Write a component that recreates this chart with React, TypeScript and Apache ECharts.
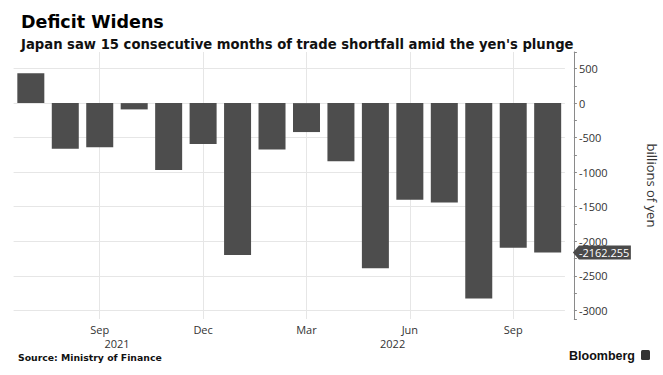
import React, { useEffect, useRef } from 'react';
import * as echarts from 'echarts';

const months = [
  'Jul 2021', 'Aug 2021', 'Sep 2021', 'Oct 2021', 'Nov 2021', 'Dec 2021',
  'Jan 2022', 'Feb 2022', 'Mar 2022', 'Apr 2022', 'May 2022', 'Jun 2022',
  'Jul 2022', 'Aug 2022', 'Sep 2022', 'Oct 2022',
];
const balance = [
  433, -659, -640, -91, -968, -592, -2200, -673, -419, -842, -2390, -1400,
  -1440, -2830, -2094, -2162.255,
];
const labeledMonths = ['Sep 2021', 'Dec 2021', 'Mar 2022', 'Jun 2022', 'Sep 2022'];
const years = ['2021', '2022'];
const yearStart = ['Jul 2021', 'Jan 2022'];
const yearEnd = ['Dec 2021', 'Oct 2022'];
const lastValueText = '-2162.255';

const GRID_LINE = '#e6e6e6';
const AXIS = '#8a8a8a';
const TEXT = '#333333';

export default function App() {
  const ref = useRef<HTMLDivElement>(null);
  useEffect(() => {
    if (!ref.current) return;
    const chart = echarts.init(ref.current, undefined, { renderer: 'svg' });
    const splitColors = ['rgba(0,0,0,0)'];
    for (let i = 0; i < 8; i++) splitColors.push(GRID_LINE);
    splitColors.push('rgba(0,0,0,0)');
    const option: any = {
      animation: false,
      backgroundColor: '#ffffff',
      title: [
        {
          text: 'Deficit Widens',
          left: 16,
          top: 8,
          textStyle: { fontFamily: 'DejaVu Sans', fontWeight: 'bold', fontSize: 17.5, color: '#000' },
        },
        {
          text: "Japan saw 15 consecutive months of trade shortfall amid the yen's plunge",
          left: 16,
          top: 33,
          textStyle: { fontFamily: 'DejaVu Sans', fontWeight: 'bold', fontSize: 13.2, color: '#111' },
        },
      ],
      grid: { left: 13.6, right: 98.1, top: 52, bottom: 56, outerBoundsMode: 'none', containLabel: false },
      xAxis: {
        type: 'category',
        data: months,
        axisLine: { show: false },
        axisTick: { show: false },
        axisLabel: {
          interval: (i: number) => labeledMonths.includes(months[i]),
          formatter: (v: string) => v.split(' ')[0],
          color: TEXT,
          fontSize: 11,
          fontFamily: 'Open Sans',
          margin: 5,
        },
        splitLine: {
          show: true,
          alignWithLabel: true,
          interval: (i: number) => labeledMonths.includes(months[i]),
          lineStyle: { color: GRID_LINE, width: 1 },
        },
      },
      yAxis: {
        type: 'value',
        position: 'right',
        offset: 9,
        min: -3125,
        max: 740,
        splitNumber: 8,
        axisLine: { show: true, lineStyle: { color: AXIS } },
        axisTick: { show: true, length: 3, lineStyle: { color: AXIS } },
        minorTick: { show: true, splitNumber: 2, length: 3, lineStyle: { color: AXIS } },
        axisLabel: {
          showMinLabel: false,
          showMaxLabel: false,
          formatter: (v: number) => String(v),
          color: TEXT,
          fontSize: 11,
          fontFamily: 'Open Sans',
          margin: 5,
        },
        splitLine: { show: true, lineStyle: { color: splitColors, width: 1 } },
        name: 'billions of yen',
        nameLocation: 'middle',
        nameRotate: -90,
        nameGap: 72,
        nameTextStyle: { color: TEXT, fontSize: 13, fontFamily: 'Open Sans' },
      },
      series: [
        {
          type: 'bar',
          data: balance,
          barWidth: 27,
          itemStyle: { color: '#4d4d4d' },
        },
      ],
    };
    chart.setOption(option);

    const px = (m: string) => chart.convertToPixel({ xAxisIndex: 0 }, m) as number;
    const band = px(months[1]) - px(months[0]);
    const axisX = px(months[months.length - 1]) + band / 2 + 9;
    const lastY = chart.convertToPixel({ yAxisIndex: 0 }, balance[balance.length - 1]) as number;
    const graphic: any[] = years.map((y, i) => ({
      type: 'text',
      x: (px(yearStart[i]) + px(yearEnd[i])) / 2,
      y: 343,
      style: { text: y, fill: TEXT, font: '11px "Open Sans"', textAlign: 'center', textVerticalAlign: 'middle' },
    }));
    graphic.push({
      type: 'polygon',
      shape: {
        points: [
          [axisX - 1, lastY],
          [axisX + 5, lastY - 7],
          [axisX + 57, lastY - 7],
          [axisX + 57, lastY + 7],
          [axisX + 5, lastY + 7],
        ],
      },
      style: { fill: '#4a4a4a' },
      z: 100,
    });
    graphic.push({
      type: 'text',
      x: axisX + 5,
      y: lastY,
      style: { text: lastValueText, fill: '#fff', font: '11px "Open Sans"', textAlign: 'left', textVerticalAlign: 'middle' },
      z: 101,
    });
    graphic.push({
      type: 'text',
      x: 18,
      y: 357,
      style: { text: 'Source: Ministry of Finance', fill: '#111', font: 'bold 9.3px "DejaVu Sans"', textAlign: 'left', textVerticalAlign: 'middle' },
    });
    graphic.push({
      type: 'text',
      x: 635,
      y: 356,
      style: { text: 'Bloomberg', fill: '#111', font: 'bold 12.5px "Liberation Sans"', textAlign: 'right', textVerticalAlign: 'middle' },
    });
    graphic.push({
      type: 'rect',
      shape: { x: 641, y: 350, width: 9, height: 10, r: 1.5 },
      style: { fill: '#333' },
    });
    chart.setOption({ graphic });
    return () => chart.dispose();
  }, []);
  return (
    <div
      ref={ref}
      style={{ position: 'fixed', left: 0, top: 0, width: 663, height: 375, background: '#fff' }}
    />
  );
}
